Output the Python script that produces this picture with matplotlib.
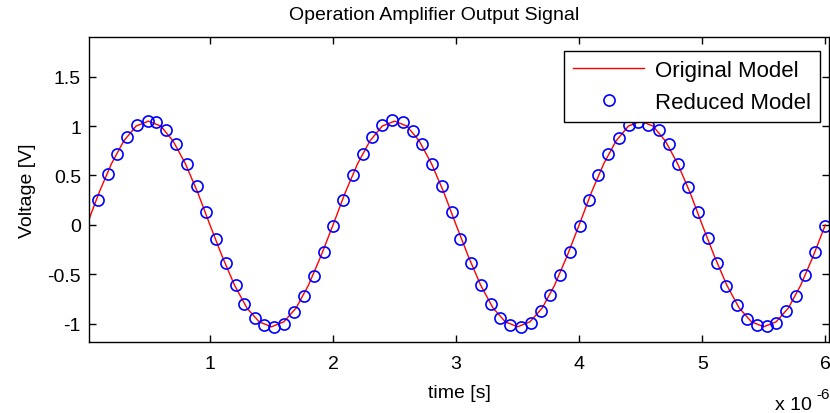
import matplotlib.pyplot as plt

plt.rcParams["font.family"] = ["Liberation Sans", "DejaVu Sans"]

# original model (time in microseconds, voltage in V)
orig_t = [i / 10 for i in range(61)]
orig_v = [
    0.00, 0.33, 0.62, 0.85, 1.00, 1.05, 1.00, 0.85, 0.62, 0.33,
    0.00, -0.32, -0.61, -0.84, -0.98, -1.03, -0.98, -0.84, -0.61, -0.32,
    0.00, 0.33, 0.62, 0.85, 1.00, 1.05, 1.00, 0.85, 0.62, 0.33,
    0.00, -0.32, -0.61, -0.84, -0.98, -1.03, -0.98, -0.84, -0.61, -0.32,
    0.00, 0.33, 0.62, 0.85, 1.00, 1.05, 1.00, 0.85, 0.62, 0.33,
    0.00, -0.32, -0.61, -0.84, -0.98, -1.03, -0.98, -0.84, -0.61, -0.32,
    0.00,
]

# reduced model samples
red_t = [
    0.087, 0.168, 0.241, 0.323, 0.404, 0.493, 0.559, 0.642, 0.724, 0.811,
    0.897, 0.967, 1.046, 1.128, 1.211, 1.279, 1.366, 1.441, 1.523, 1.602,
    1.680, 1.767, 1.846, 1.927, 2.002, 2.084, 2.165, 2.246, 2.315, 2.396,
    2.482, 2.567, 2.653, 2.721, 2.802, 2.884, 2.965, 3.033, 3.122, 3.203,
    3.285, 3.358, 3.439, 3.528, 3.607, 3.691, 3.764, 3.846, 3.923, 4.008,
    4.076, 4.157, 4.238, 4.320, 4.401, 4.482, 4.559, 4.650, 4.726, 4.802,
    4.884, 4.965, 5.046, 5.119, 5.195, 5.282, 5.363, 5.445, 5.526, 5.599,
    5.680, 5.764, 5.837, 5.919, 5.994,
]
red_v = [
    0.257, 0.511, 0.721, 0.890, 1.015, 1.049, 1.036, 0.957, 0.822, 0.619,
    0.389, 0.129, -0.142, -0.386, -0.609, -0.802, -0.937, -1.015, -1.028, -0.998,
    -0.876, -0.718, -0.515, -0.271, -0.007, 0.257, 0.508, 0.721, 0.890, 1.015,
    1.059, 1.036, 0.947, 0.822, 0.619, 0.389, 0.129, -0.142, -0.386, -0.609,
    -0.802, -0.937, -1.015, -1.028, -0.988, -0.870, -0.708, -0.508, -0.271, -0.007,
    0.257, 0.508, 0.721, 0.880, 1.008, 1.043, 1.015, 0.957, 0.822, 0.619,
    0.383, 0.129, -0.132, -0.386, -0.616, -0.812, -0.947, -1.015, -1.022, -0.988,
    -0.870, -0.718, -0.508, -0.271, -0.013,
]

x_ticks = [1, 2, 3, 4, 5, 6]
y_ticks = [-1, -0.5, 0, 0.5, 1, 1.5]
y_labels = ["-1", "-0.5", "0", "0.5", "1", "1.5"]

fig = plt.figure(figsize=(8.3, 4.14), dpi=100)
ax = fig.add_axes([0.1075, 0.171, 0.891, 0.738])

ax.plot(orig_t, orig_v, color="red", lw=1.0, label="Original Model")
ax.plot(red_t, red_v, linestyle="none", marker="o", ms=8, mfc="none",
        mec="blue", mew=1.2, label="Reduced Model")

ax.set_xlim(0.019, 6.028)
ax.set_ylim(-1.186, 1.904)
ax.set_xticks(x_ticks)
ax.set_xticklabels([str(t) for t in x_ticks])
ax.set_yticks(y_ticks)
ax.set_yticklabels(y_labels)
ax.tick_params(direction="in", length=5, width=1, top=True, right=True,
               labelsize=14, pad=6)
ax.tick_params(axis="x", pad=9)
for s in ax.spines.values():
    s.set_linewidth(1.0)

ax.set_title("Operation Amplifier Output Signal", fontsize=14, x=0.4665, pad=13)
ax.set_xlabel("time [s]", fontsize=14, labelpad=9)
ax.set_ylabel("Voltage [V]", fontsize=14, labelpad=8)
fig.text(775 / 830, 1 - 410 / 414, "x 10", fontsize=14, va="baseline")
fig.text(816 / 830, 1 - 399 / 414, "-6", fontsize=11, va="baseline")

leg = ax.legend(loc="upper right", bbox_to_anchor=(0.9885, 0.953),
                fontsize=16, fancybox=False, framealpha=1,
                edgecolor="black", borderaxespad=0, handlelength=3.2,
                handletextpad=0.5, labelspacing=0.5, borderpad=0.4)
leg.get_frame().set_linewidth(1.0)

fig.savefig("out.png", dpi=100)
